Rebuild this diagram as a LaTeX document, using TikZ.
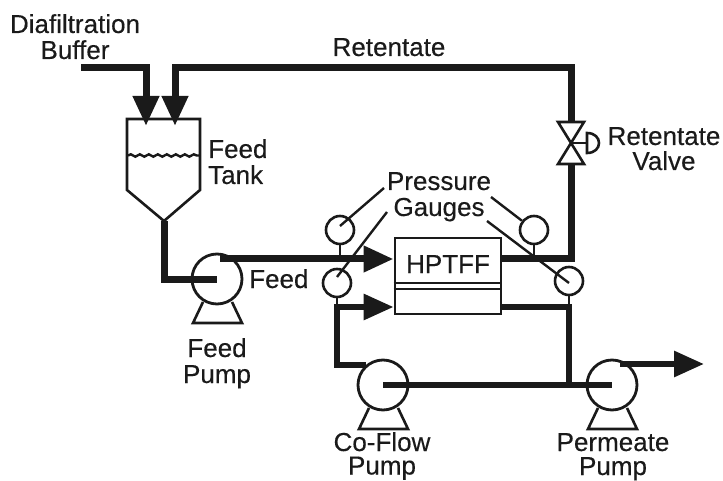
\documentclass[tikz,border=0pt]{standalone}
\usepackage{fontspec}
\setmainfont[FakeBold=0.3]{Liberation Sans}
\usetikzlibrary{arrows.meta,decorations.pathmorphing,calc}
\definecolor{ink}{HTML}{1A1A1A}
\tikzset{
  pipe/.style={line width=7pt,draw=ink,line join=miter},
  flow/.style={pipe,-{Triangle[length=30pt,width=25pt]}},
  thinline/.style={line width=2.6pt,draw=ink,line join=miter},
  leader/.style={line width=2.4pt,draw=ink},
  label/.style={font=\fontsize{26}{26}\selectfont,text=ink,inner sep=0pt,anchor=base},
  gauge/.style={circle,draw=ink,line width=2.6pt,minimum size=28pt,inner sep=0pt},
  pump/.style={circle,draw=ink,line width=2.8pt,minimum size=50pt,inner sep=0pt},
}
\newcommand{\pumpbase}[1]{\draw[thinline] ($(#1)+(-14,23)$) -- ($(#1)+(-24,44)$) -- ($(#1)+(25,44)$) -- ($(#1)+(15,23)$);}
\begin{document}
\begin{tikzpicture}[x=1pt,y=-1pt]
\useasboundingbox (0,0) rectangle (723,481);
% anchors
\coordinate (bufStart) at (81,68);
\coordinate (bufBend) at (146,68);
\coordinate (inA) at (146,126);
\coordinate (inB) at (175,126);
\coordinate (retBendL) at (175,68);
\coordinate (retBendR) at (571,68);
\coordinate (valveTop) at (571,122);
\coordinate (valveMid) at (571,143);
\coordinate (valveBot) at (571,164);
\coordinate (tankOut) at (164,221);
\coordinate (tankBend) at (164,279);
\coordinate (junR) at (571,259);
\coordinate (junL) at (337,307);
\coordinate (coBend) at (337,365);
\coordinate (coStart) at (366,365);
\coordinate (junP) at (569,385);
\coordinate (feedStart) at (220,259);
\coordinate (permStart) at (620,364);
\coordinate (permR) at (704,364);
% pumps
\node[pump] (feedPump) at (217,279) {};
\node[pump] (coPump) at (383,385) {};
\node[pump] (permPump) at (612,385) {};
\pumpbase{feedPump}
\pumpbase{coPump}
\pumpbase{permPump}
% module
\node[draw=ink,line width=2.8pt,minimum width=106pt,minimum height=76pt,inner sep=0pt] (module) at (448,276) {};
\draw[thinline] (module.west |- 0,283) -- (module.east |- 0,283);
\draw[thinline] (module.west |- 0,289) -- (module.east |- 0,289);
\node[label] (hptff) at (448,273) {HPTFF};
% tank
\draw[thinline] (127,119) -- (200,119) -- (200,190) -- (tankOut) -- (127,190) -- cycle;
\draw[line width=2.4pt,draw=ink,decorate,decoration={snake,segment length=9pt,amplitude=1.2pt}] (128,155.5) -- (199,155.5);
% pipes
\draw[flow] (bufStart) -- (bufBend) -- (inA);
\draw[flow] (valveTop) -- (retBendR) -- (retBendL) -- (inB);
\draw[pipe] (tankOut) -- (tankBend) -- (feedPump.center);
\draw[flow] (feedStart) -- (module.west |- feedStart);
\draw[pipe] (module.east |- junR) -- (junR) -- (valveBot);
\draw[flow,line width=6pt] (coStart) -- (coBend) -- (junL) -- (module.west |- junL);
\draw[pipe,line width=6pt] (coPump.center) -- (permPump.center);
\draw[pipe,line width=6pt] (module.east |- junL) -- (junP |- junL) -- (junP);
\draw[flow,line width=6pt] (permStart) -- (permR);
% valve
\draw[thinline] (558,122) -- (584,122) -- (558,164) -- (584,164) -- cycle;
\draw[thinline] (valveMid) -- (587,143);
\draw[thinline] (587,133) .. controls (603,133) and (603,153) .. (587,153) -- cycle;
% gauges
\node[gauge] (g1) at (340,230) {};
\node[gauge] (g2) at (337,283) {};
\node[gauge] (g3) at (534,230) {};
\node[gauge] (g4) at (569,281) {};
\draw[thinline] (g1.south) -- (g1.south |- feedStart);
\draw[thinline] (g2.south) -- (junL);
\draw[thinline] (g3.south) -- (g3.south |- junR);
\draw[thinline] (g4.south) -- (g4.south |- junL);
% leaders
\coordinate (p1) at (384,188);
\coordinate (p2) at (387,212);
\coordinate (p3) at (491,197);
\coordinate (p4) at (487,221);
\draw[leader] (p1) -- ($(g1)+(0,-4)$);
\draw[leader] (p2) -- ($(g2)+(0,-6)$);
\draw[leader] (p3) -- (g3);
\draw[leader] (p4) -- ($(g4)+(0,2)$);
% labels
\node[label] (l1) at (75,33) {Diafiltration};
\node[label] (l2) at (75,59) {Buffer};
\node[label] (l3) at (389,56) {Retentate};
\node[label,anchor=base west] (l4) at (208,158) {Feed};
\node[label,anchor=base west] (l5) at (208,184) {Tank};
\node[label] (l6) at (664,145) {Retentate};
\node[label] (l7) at (664,170) {Valve};
\node[label] (l8) at (439,190) {Pressure};
\node[label] (l9) at (439,216) {Gauges};
\node[label,anchor=base west] (l10) at (249,288) {Feed};
\node[label] (l11) at (217,357) {Feed};
\node[label] (l12) at (217,383) {Pump};
\node[label] (l13) at (382,451) {Co-Flow};
\node[label] (l14) at (382,474.5) {Pump};
\node[label] (l15) at (613,451) {Permeate};
\node[label] (l16) at (613,475) {Pump};
\end{tikzpicture}
\end{document}
